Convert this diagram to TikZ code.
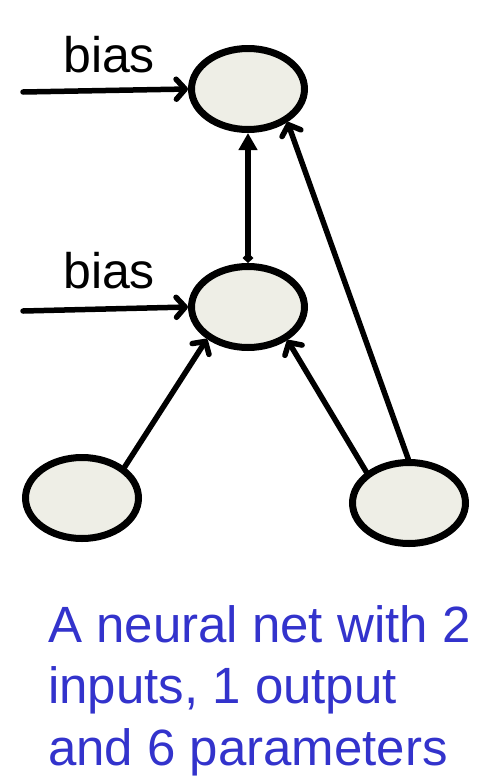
\documentclass[tikz,border=0pt]{standalone}
\usepackage{fontspec}
\setmainfont{Liberation Sans}
\usetikzlibrary{arrows.meta,shapes.geometric}
\definecolor{nodefill}{RGB}{238,238,230}
\definecolor{captionblue}{RGB}{51,51,204}
\tikzset{
  neuron/.style={ellipse,draw=black,line width=7pt,fill=nodefill,minimum width=113pt,minimum height=81pt,inner sep=0pt},
  conn/.style={line width=5.5pt,line cap=round,-{Straight Barb[length=9pt,width=20pt,line width=5.5pt,round]}},
  upconn/.style={line width=5.5pt,{Diamond[length=10pt,width=11pt]}-{Triangle[length=17pt,width=18pt]}},
  biaslabel/.style={anchor=base west,inner sep=0pt,font=\fontsize{50}{60}\selectfont},
  caption/.style={anchor=base west,inner sep=0pt,align=left,text=captionblue,font=\fontsize{51}{61.5}\selectfont}
}
\begin{document}
\begin{tikzpicture}[x=1pt,y=-1pt]
\useasboundingbox (0,0) rectangle (497,782);
\node[neuron] (out) at (248,89) {};
\node[neuron] (hid) at (248,307) {};
\node[neuron] (in1) at (82,498) {};
\node[neuron] (in2) at (409,503) {};
\coordinate (b1) at (23,92);
\coordinate (b2) at (23,311);
\node[biaslabel] (t1) at (63,72) {bias};
\node[biaslabel] (t2) at (63,288) {bias};
\draw[conn] (b1) -- (out.west);
\draw[conn] (b2) -- (hid.west);
\draw[upconn] (hid.north) -- (out.south);
\draw[conn] (in1.36) -- (hid.218);
\draw[conn] (in2.144) -- (hid.320);
\draw[conn] (in2.91) -- (out.320);
\node[caption] (cap) at (48,765) {A neural net with 2\\inputs, 1 output\\and 6 parameters};
\end{tikzpicture}
\end{document}
